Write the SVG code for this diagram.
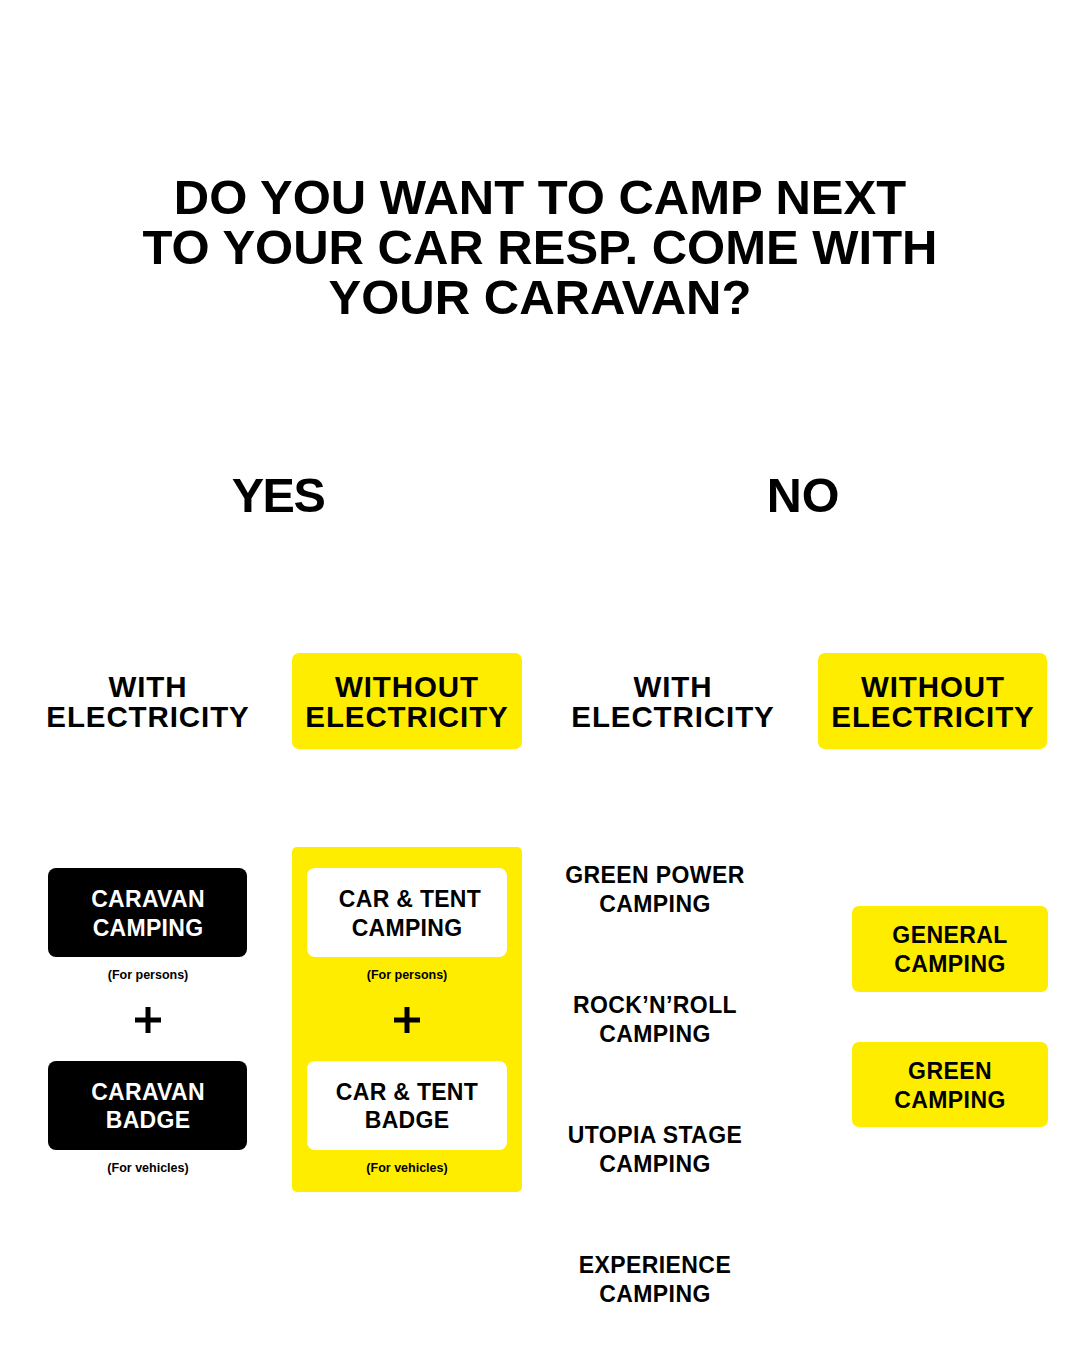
<svg xmlns="http://www.w3.org/2000/svg" width="1080" height="1350" viewBox="0 0 1080 1350">
<style>
text{font-family:"Liberation Sans",Arial,sans-serif;font-weight:bold;text-anchor:middle;fill:#000}
.title{font-size:49px}
.yn{font-size:48.5px}
.el{font-size:29.5px;letter-spacing:0.9px}
.bx{font-size:23px;letter-spacing:0.3px}
.sm{font-size:12.5px}
.camp{font-size:23px;letter-spacing:0.4px}
.w{fill:#fff}
.yel{fill:#ffed00}
</style>
<rect width="1080" height="1350" fill="#fff"/>
<g id="title">
<text class="title"><tspan x="540" y="214">DO YOU WANT TO CAMP NEXT</tspan><tspan x="540" y="264">TO YOUR CAR RESP. COME WITH</tspan><tspan x="540" y="314">YOUR CARAVAN?</tspan></text>
</g>
<g id="yes"><text class="yn" x="278" y="512" letter-spacing="-1.5">YES</text></g>
<g id="no"><text class="yn" x="803" y="512">NO</text></g>
<g id="yes-with"><text class="el" x="148" y="697">WITH</text><text class="el" x="148" y="727">ELECTRICITY</text></g>
<g id="yes-without"><rect class="yel" x="292" y="653" width="230" height="96" rx="7"/><text class="el" x="407" y="697">WITHOUT</text><text class="el" x="407" y="727">ELECTRICITY</text></g>
<g id="no-with"><text class="el" x="673" y="697">WITH</text><text class="el" x="673" y="727">ELECTRICITY</text></g>
<g id="no-without"><rect class="yel" x="818" y="653" width="229" height="96" rx="7"/><text class="el" x="933" y="697">WITHOUT</text><text class="el" x="933" y="727">ELECTRICITY</text></g>
<g id="caravan-camping"><rect x="48" y="868" width="199" height="89" rx="8" fill="#000"/><text class="bx w" x="148" y="907">CARAVAN</text><text class="bx w" x="148" y="936">CAMPING</text><text class="sm" x="148" y="979">(For persons)</text></g>
<g id="plus1"><path d="M135 1020h26M148 1007v26" stroke="#000" stroke-width="5"/></g>
<g id="caravan-badge"><rect x="48" y="1061" width="199" height="89" rx="8" fill="#000"/><text class="bx w" x="148" y="1100">CARAVAN</text><text class="bx w" x="148" y="1128">BADGE</text><text class="sm" x="148" y="1172">(For vehicles)</text></g>
<g id="cartent-group"><rect class="yel" x="292" y="847" width="230" height="345" rx="5"/></g>
<g id="cartent-camping"><rect x="307" y="868" width="200" height="89" rx="8" fill="#fff"/><text class="bx" x="410" y="907">CAR &amp; TENT</text><text class="bx" x="407" y="936">CAMPING</text><text class="sm" x="407" y="979">(For persons)</text></g>
<g id="plus2"><path d="M394 1020h26M407 1007v26" stroke="#000" stroke-width="5"/></g>
<g id="cartent-badge"><rect x="307" y="1061" width="200" height="89" rx="8" fill="#fff"/><text class="bx" x="407" y="1100">CAR &amp; TENT</text><text class="bx" x="407" y="1128">BADGE</text><text class="sm" x="407" y="1172">(For vehicles)</text></g>
<g id="green-power"><text class="camp" x="655" y="883">GREEN POWER</text><text class="camp" x="655" y="912">CAMPING</text></g>
<g id="rocknroll"><text class="camp" x="655" y="1013">ROCK’N’ROLL</text><text class="camp" x="655" y="1042">CAMPING</text></g>
<g id="utopia"><text class="camp" x="655" y="1143">UTOPIA STAGE</text><text class="camp" x="655" y="1172">CAMPING</text></g>
<g id="experience"><text class="camp" x="655" y="1273">EXPERIENCE</text><text class="camp" x="655" y="1302">CAMPING</text></g>
<g id="general"><rect class="yel" x="852" y="906" width="196" height="86" rx="7"/><text class="camp" x="950" y="943">GENERAL</text><text class="camp" x="950" y="972">CAMPING</text></g>
<g id="green"><rect class="yel" x="852" y="1042" width="196" height="85" rx="7"/><text class="camp" x="950" y="1079">GREEN</text><text class="camp" x="950" y="1108">CAMPING</text></g>
<g id="connectors"></g>
</svg>
